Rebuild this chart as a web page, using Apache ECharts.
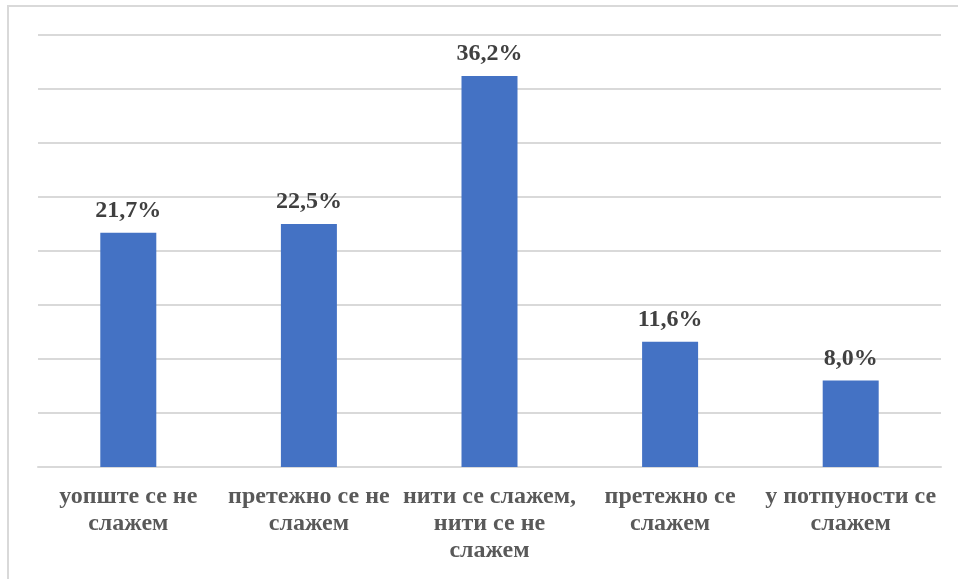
<!DOCTYPE html>
<html><head><meta charset="utf-8">
<script src="https://cdn.jsdelivr.net/npm/echarts@6/dist/echarts.min.js"></script>
<style>html,body{margin:0;padding:0;background:#fff}#c{width:958px;height:579px}</style>
</head><body><div id="c"></div>
<script>
const categories = ['уопште се не\nслажем', 'претежно се не\nслажем', 'нити се слажем,\nнити се не\nслажем', 'претежно се\nслажем', 'у потпуности се\nслажем'];
const values = [21.7, 22.5, 36.2, 11.6, 8.0];
const yMin = 0, yMax = 40, yStep = 5;

const chart = echarts.init(document.getElementById('c'));
chart.setOption({
  animation: false,
  backgroundColor: '#fff',
  graphic: [{
    type: 'rect', shape: {x: 8, y: 6, width: 1200, height: 1000},
    style: {fill: 'none', stroke: '#d9d9d9', lineWidth: 2}, silent: true, z: -1
  }],
  grid: {left: 38, right: 17, top: 35, bottom: 112, containLabel: false},
  xAxis: {
    type: 'category', data: categories,
    axisTick: {show: false},
    axisLine: {show: true, lineStyle: {color: '#d9d9d9', width: 2}},
    axisLabel: {
      interval: 0, margin: 16, color: '#595959',
      fontFamily: 'Liberation Serif', fontWeight: 'bold', fontSize: 24, lineHeight: 27
    }
  },
  yAxis: {
    type: 'value', min: yMin, max: yMax, interval: yStep,
    axisLabel: {show: false}, axisLine: {show: false}, axisTick: {show: false},
    splitLine: {lineStyle: {color: '#d9d9d9', width: 2}}
  },
  series: [{
    type: 'bar', data: values, barWidth: 56,
    itemStyle: {color: '#4472c4'},
    label: {
      show: true, position: 'top', distance: 10,
      formatter: p => p.value.toFixed(1).replace('.', ',') + '%',
      color: '#404040', fontFamily: 'Liberation Serif', fontWeight: 'bold', fontSize: 24
    }
  }]
});
</script></body></html>
